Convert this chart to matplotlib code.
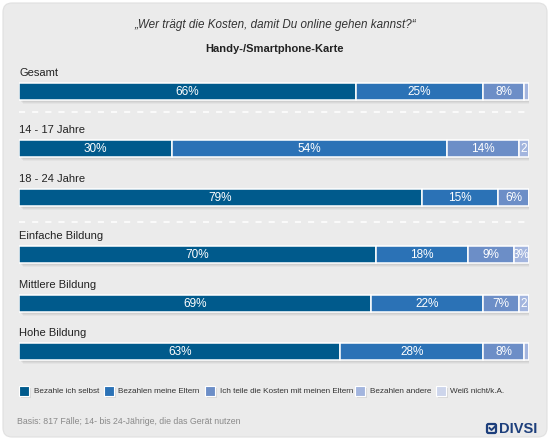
import matplotlib
matplotlib.use("Agg")
import matplotlib.pyplot as plt
from matplotlib.patches import FancyBboxPatch, Rectangle
from matplotlib.lines import Line2D

plt.rcParams['font.family'] = ['Liberation Sans', 'DejaVu Sans']

# data
groups = ["Gesamt", "14 - 17 Jahre", "18 - 24 Jahre",
          "Einfache Bildung", "Mittlere Bildung", "Hohe Bildung"]
selbst = [66, 30, 79, 70, 69, 63]
eltern = [25, 54, 15, 18, 22, 28]
teilen = [8, 14, 6, 9, 7, 8]
andere = [1, 2, 0, 3, 2, 1]
weiss = [0, 0, 0, 0, 0, 0]

series_names = ["Bezahle ich selbst", "Bezahlen meine Eltern",
                "Ich teile die Kosten mit meinen Eltern", "Bezahlen andere",
                "Weiß nicht/k.A."]
series = [selbst, eltern, teilen, andere, weiss]
colors = ["#005a8c", "#2b72b6", "#6c8ec7", "#a3b5de", "#cdd5eb"]

title = "\u201eWer trägt die Kosten, damit Du online gehen kannst?\u201c"
subtitle = "Handy-/Smartphone-Karte"
footnote = "Basis: 817 Fälle; 14- bis 24-Jährige, die das Gerät nutzen"

W, H = 550, 440
fig = plt.figure(figsize=(W / 100, H / 100), dpi=100, facecolor="white")

# rounded grey panel
bg = fig.add_axes([0, 0, 1, 1])
bg.set_xlim(0, W)
bg.set_ylim(H, 0)
bg.axis("off")
bg.add_patch(FancyBboxPatch((3, 3), W - 6, H - 6,
                            boxstyle="round,pad=0,rounding_size=9",
                            fc="#ebebeb", ec="#e0e0e0", lw=0.8))

# bar axes: x in percent, y in pixel rows
x0, x1 = 19, 529
ax = fig.add_axes([x0 / W, 0, (x1 - x0) / W, 1])
ax.set_xlim(0, 100)
ax.set_ylim(H, 0)
ax.axis("off")

ypos = []
y = 91.5
for i in range(len(groups)):
    ypos.append(y)
    y += 57 if i in (0, 2) else 48.8
bar_h = 17

# soft shadow
for k, a in enumerate([0.05, 0.04, 0.03]):
    ax.barh([p + 2 + k for p in ypos], [100] * len(ypos), height=bar_h,
            left=0.3 + 0.2 * k, color="#000000", alpha=a, lw=0)

left = [0] * len(groups)
for name, vals, c in zip(series_names, series, colors):
    ax.barh(ypos, vals, height=bar_h, left=left, color=c,
            edgecolor="white", linewidth=1.1, label=name)
    for yy, l, v in zip(ypos, left, vals):
        if v >= 3:
            txt = f"{v}%"
        elif v == 2:
            txt = "2"
        else:
            txt = ""
        if txt:
            ax.text(l + v / 2, yy + 0.5, txt, ha="center", va="center",
                    color="white", fontsize=8.5)
    left = [l + v for l, v in zip(left, vals)]

for g, yy in zip(groups, ypos):
    ax.text(0, yy - 18.5, g, ha="left", va="center", fontsize=8,
            color="#222222")

# dashed separators
for yy in (112, 222):
    ax.add_line(Line2D([0, 100.7], [yy, yy], color="white", lw=1.1,
                       dashes=(4, 4.6)))

fig.text(0.5, 1 - 25 / H, title, ha="center", va="center", fontsize=8.4,
         style="italic", color="#333333")
fig.text(0.5, 1 - 49 / H, subtitle, ha="center", va="center", fontsize=8,
         weight="bold", color="#222222")

# legend
leg_x = [19, 104, 205, 355, 436]
for name, c, lx in zip(series_names, colors, leg_x):
    bg.add_patch(Rectangle((lx + 1.5, 388.5), 10, 10, fc="#000000", alpha=0.08,
                           lw=0))
    bg.add_patch(Rectangle((lx, 386), 10, 10, fc=c, ec="white", lw=0.8))
    bg.text(lx + 14.5, 391.5, name, ha="left", va="center", fontsize=5.9,
            color="#333333")

bg.text(17, 421, footnote, ha="left", va="center", fontsize=6.3, color="#8a8a8a")

# DIVSI logo
bg.add_patch(FancyBboxPatch((487, 424), 9, 9,
                            boxstyle="round,pad=0,rounding_size=1.5",
                            fc="none", ec="#1d3f7c", lw=1.6))
bg.add_line(Line2D([489.5, 491.5, 495], [428, 430, 426.5], color="#1d3f7c",
                   lw=1.4))
bg.text(499.5, 429, "DIVSI", ha="left", va="center", fontsize=10.5,
        weight="bold", color="#1d3f7c")

fig.savefig("out.png", dpi=100, facecolor="white")
